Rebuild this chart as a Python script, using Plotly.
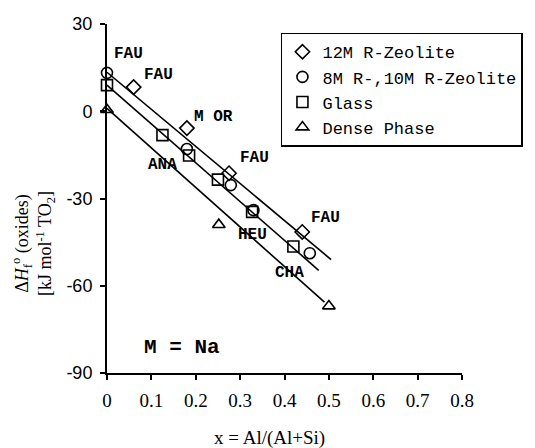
import plotly.graph_objects as go

# ---- data ----
zeo12_x = [0.06, 0.18, 0.275, 0.44]
zeo12_y = [8.3, -5.8, -21.3, -41.5]

zeo810_x = [0.0, 0.18, 0.279, 0.33, 0.457]
zeo810_y = [13.2, -13.0, -25.4, -34.0, -48.8]

glass_x = [0.0, 0.125, 0.185, 0.25, 0.327, 0.42]
glass_y = [9.0, -8.2, -15.2, -23.5, -34.6, -46.5]

dense_x = [0.0, 0.252, 0.5]
dense_y = [0.5, -39.0, -67.0]

# regression lines: intercept, slope, x extent
fit_intercepts = [13.4, 9.0, 1.0]
fit_slopes = [-127.5, -133.5, -136.0]
fit_xmax = [0.505, 0.477, 0.49]

# labels
label_texts = ["FAU", "FAU", "M EL,M F", "M OR", "ANA", "FAU", "FAU", "HEU", "CHA"]
label_x = [0.049, 0.115, -0.036, 0.241, 0.126, 0.332, 0.493, 0.329, 0.411]
label_y = [19.6, 12.4, 10.0, -2.1, -18.5, -16.1, -36.7, -42.6, -55.6]

x_ticks = [0, 0.1, 0.2, 0.3, 0.4, 0.5, 0.6, 0.7, 0.8]
y_ticks = [-90, -60, -30, 0, 30]

fig = go.Figure()

for a, b, xm in zip(fit_intercepts, fit_slopes, fit_xmax):
    fig.add_trace(go.Scatter(x=[0, xm], y=[a, a + b * xm], mode="lines",
                             line=dict(color="black", width=1.6),
                             showlegend=False, hoverinfo="skip", cliponaxis=False))

mk = dict(color="black", line=dict(color="black", width=1.6))
fig.add_trace(go.Scatter(x=zeo12_x, y=zeo12_y, mode="markers", name="12M R-Zeolite",
                         marker=dict(symbol="diamond-open", size=11, **mk), cliponaxis=False))
fig.add_trace(go.Scatter(x=zeo810_x, y=zeo810_y, mode="markers", name="8M R-,10M R-Zeolite",
                         marker=dict(symbol="circle-open", size=11, **mk), cliponaxis=False))
fig.add_trace(go.Scatter(x=glass_x, y=glass_y, mode="markers", name="Glass",
                         marker=dict(symbol="square-open", size=11, **mk), cliponaxis=False))
fig.add_trace(go.Scatter(x=dense_x, y=dense_y, mode="markers", name="Dense Phase",
                         marker=dict(symbol="triangle-up-open", size=11, **mk), cliponaxis=False))

for t, lx, ly in zip(label_texts, label_x, label_y):
    anchor = "right" if t.startswith("M EL") else "center"
    fig.add_annotation(x=lx, y=ly, text="<b>" + t + "</b>", showarrow=False,
                       xanchor=anchor, yanchor="middle",
                       font=dict(family="Liberation Mono", size=14 if anchor == "right" else 16, color="black"))

fig.add_annotation(x=0.168, y=-81.3, text="<b>M = Na</b>", showarrow=False,
                   font=dict(family="Liberation Mono", size=21, color="black"))

# axis titles
fig.add_annotation(xref="paper", yref="paper", x=0.459, y=-0.185, text="x = Al/(Al+Si)",
                   showarrow=False, xanchor="center", yanchor="middle",
                   font=dict(family="Liberation Serif", size=19, color="black"))
fig.add_annotation(xref="paper", yref="paper", x=-0.205, y=0.37,
                   text="Δ<i>H</i><sub>f</sub><sup>o</sup> (oxides)<br>[kJ mol<sup>-1</sup> TO<sub>2</sub>]",
                   textangle=-90, showarrow=False, xanchor="center", yanchor="middle",
                   font=dict(family="Liberation Serif", size=18, color="black"))

fig.update_layout(
    width=535, height=448,
    margin=dict(l=107, r=66, t=24, b=75),
    paper_bgcolor="white", plot_bgcolor="white",
    showlegend=True,
    legend=dict(x=0.49, y=0.975, xanchor="left", yanchor="top",
                bordercolor="black", borderwidth=1.5, bgcolor="white",
                font=dict(family="Liberation Mono", size=17, color="black"),
                itemwidth=30, tracegroupgap=0),
)
fig.update_xaxes(range=[0, 0.8], tickvals=x_ticks, ticktext=[str(v) for v in x_ticks],
                 showgrid=False, zeroline=False, showline=True, linecolor="black", linewidth=2,
                 ticks="outside", ticklen=5, tickwidth=2, tickcolor="black",
                 ticklabelstandoff=4,
                 tickfont=dict(family="Liberation Serif", size=19, color="black"))
fig.update_yaxes(range=[-90, 30], tickvals=y_ticks, ticktext=[str(v) for v in y_ticks],
                 showgrid=False, zeroline=False, showline=True, linecolor="black", linewidth=2,
                 ticks="outside", ticklen=5, tickwidth=2, tickcolor="black",
                 ticklabelstandoff=4,
                 tickfont=dict(family="Liberation Sans", size=18, color="black"))

fig.write_html("out.html")
